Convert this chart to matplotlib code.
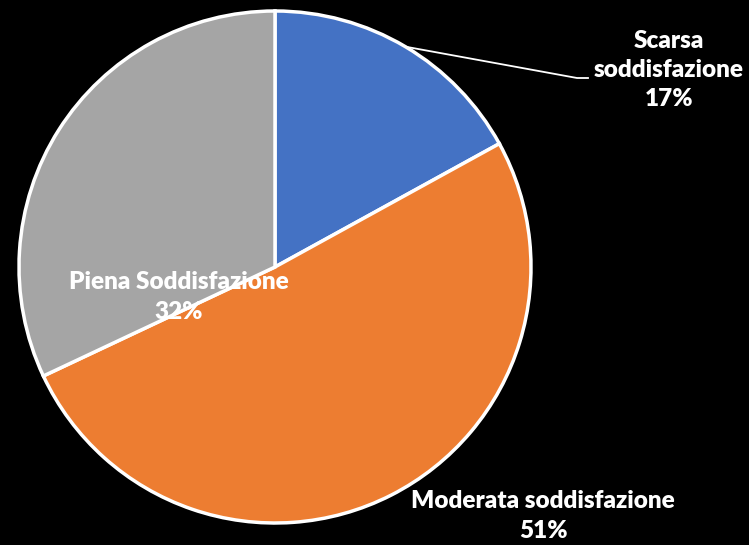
import numpy as np
import matplotlib
matplotlib.use("Agg")
import matplotlib.pyplot as plt

labels = ["Scarsa\nsoddisfazione", "Moderata soddisfazione", "Piena Soddisfazione"]
values = [17, 51, 32]
colors = ["#4472C4", "#ED7D31", "#A5A5A5"]

plt.rcParams["font.family"] = ["Lato", "DejaVu Sans"]

fig = plt.figure(figsize=(7.49, 5.45), dpi=100, facecolor="black")
W, H = 749, 545
cx, cy, r = 275, 267, 256
ax = fig.add_axes([(cx - r) / W, (H - cy - r) / H, 2 * r / W, 2 * r / H])
ax.set_facecolor("black")

wedges, _ = ax.pie(values, colors=colors, startangle=90, counterclock=False,
                   wedgeprops=dict(edgecolor="white", linewidth=2.5))
ax.set_xlim(-1, 1)
ax.set_ylim(-1, 1)
ax.set_aspect("equal")
ax.axis("off")

def px(x, y):
    return (x - cx) / r, (cy - y) / r

txt = dict(color="white", fontsize=17.5, fontweight="heavy", ha="center", va="center",
           linespacing=1.4, clip_on=False)

# Scarsa with leader line
w = wedges[0]
mid = np.deg2rad((w.theta1 + w.theta2) / 2)
sx, sy = np.cos(mid), np.sin(mid)
ex, ey = px(577, 78)
hx, _ = px(588, 78)
ax.plot([sx, ex, hx], [sy, ey, ey], color="white", lw=1.3, clip_on=False)
ax.text(*px(669, 70), f"{labels[0]}\n{values[0]}%", **txt)

ax.text(*px(543, 516), f"{labels[1]}\n{values[1]}%", **txt)
ax.text(*px(179, 297), f"{labels[2]}\n{values[2]}%", **txt)

fig.savefig("out.png", dpi=100, facecolor="black")
